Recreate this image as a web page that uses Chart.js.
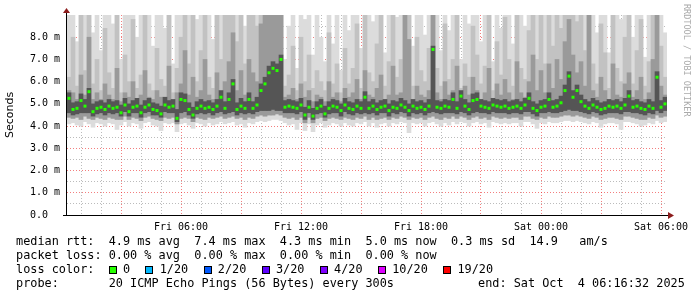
<!DOCTYPE html>
<html>
<head>
<meta charset="utf-8">
<script src="https://cdn.jsdelivr.net/npm/chart.js@4.4.0/dist/chart.umd.min.js"></script>
<style>
  body { margin: 0; background: #fff; }
  #wrap { position: relative; width: 697px; height: 297px; overflow: hidden; font-family: "DejaVu Sans Mono", monospace; }
  #wrap canvas { position: absolute; left: 0; top: 0; }
  .lg { position: absolute; left: 16px; font-size: 11.85px; line-height: 14px; white-space: pre; color: #000; }
  #lossRow { position: absolute; left: 108.7px; top: 262px; font-size: 11.85px; line-height: 14px; white-space: pre; }
  #lossRow .box { display: inline-block; width: 6px; height: 6px; border: 1px solid #000; margin-right: 6.3px; vertical-align: -1px; }
  #lossRow .txt { display: inline-block; margin-right: 15.3px; }
  #mark { position: absolute; left: 682px; top: 4px; writing-mode: vertical-rl; font-size: 8.5px; color: #aaa; white-space: pre; }
</style>
</head>
<body>
<div id="wrap">
  <canvas id="smoke" width="697" height="297"></canvas>
  <div id="mark">RRDTOOL / TOBI OETIKER</div>
  <div class="lg" style="top:234px">median rtt:  4.9 ms avg  7.4 ms max  4.3 ms min  5.0 ms now  0.3 ms sd  14.9   am/s</div>
  <div class="lg" style="top:248px">packet loss: 0.00 % avg  0.00 % max  0.00 % min  0.00 % now</div>
  <div class="lg" style="top:262px">loss color:</div>
  <div id="lossRow"></div>
  <div class="lg" style="top:276px">probe:       20 ICMP Echo Pings (56 Bytes) every 300s</div>
  <div class="lg" style="top:276px;left:478px">end: Sat Oct  4 06:16:32 2025</div>
</div>
<script>
// --- Data (ms), one column per 12 minutes from Fri 00:18 to Sat 06:18 ---

const startMin = 18;   // minutes after Fri 00:00
const stepMin = 12;
const endMin = 1818;

const median = [
  5.25, 4.75, 4.8, 5.15, 4.9, 5.55, 4.65, 4.8, 4.85, 4.75,
  4.9, 4.8, 4.85, 4.6, 4.95, 4.65, 4.85, 4.9, 4.6, 4.85,
  4.95, 4.75, 4.7, 4.55, 4.95, 4.85, 4.9, 4.35, 5.2, 5.15,
  4.75, 4.5, 4.8, 4.9, 4.8, 4.85, 4.75, 4.9, 5.3, 4.8,
  5.2, 5.9, 4.75, 4.9, 4.8, 5.2, 4.8, 4.95, 5.6, 5.9,
  6.4, 6.6, 6.5, 7.0, 4.85, 4.9, 4.85, 4.8, 4.95, 4.5,
  4.85, 4.45, 4.8, 4.9, 4.55, 4.8, 4.9, 4.85, 4.7, 4.95,
  4.8, 4.75, 4.9, 4.8, 5.3, 4.8, 4.9, 4.75, 4.85, 4.9,
  4.7, 4.85, 4.8, 4.95, 4.85, 4.7, 4.9, 4.8, 4.85, 4.75,
  4.9, 7.45, 4.85, 4.8, 4.9, 4.85, 5.2, 4.8, 5.35, 4.9,
  4.75, 5.15, 5.2, 4.9, 4.85, 4.8, 4.95, 4.9, 4.85, 4.9,
  4.8, 4.85, 4.9, 4.8, 4.95, 5.25, 4.8, 4.7, 4.85, 4.9,
  5.2, 4.85, 4.9, 5.05, 5.6, 6.25, 5.3, 5.6, 5.1, 4.9,
  4.8, 4.95, 4.85, 4.75, 4.8, 4.9, 4.85, 4.9, 4.8, 4.95,
  5.35, 4.85, 4.9, 4.8, 4.75, 4.9, 4.8, 6.2, 4.85, 5.0
];

// lowest ping
const smokeMin = [
  4.1, 4.15, 4.05, 4.0, 4.2, 4.1, 3.95, 4.15, 4.1, 4.0,
  4.15, 4.1, 3.85, 4.05, 4.2, 4.0, 4.15, 4.1, 3.9, 4.15,
  4.2, 4.05, 4.0, 3.8, 4.15, 4.1, 4.15, 3.75, 4.1, 4.15,
  4.05, 3.9, 4.15, 4.1, 4.0, 4.15, 4.05, 4.1, 4.2, 4.1,
  4.15, 4.2, 4.05, 4.1, 3.95, 4.15, 4.1, 4.2, 4.25, 4.2,
  4.25, 4.3, 4.3, 4.25, 4.15, 4.05, 4.1, 3.85, 4.15, 3.8,
  4.1, 3.75, 4.05, 4.15, 3.95, 4.05, 4.15, 4.1, 4.0, 4.15,
  4.05, 4.0, 4.15, 4.1, 4.2, 4.0, 4.15, 3.95, 4.1, 4.15,
  4.0, 4.15, 4.1, 4.2, 4.15, 3.7, 4.15, 4.1, 4.15, 4.0,
  4.15, 4.2, 4.1, 4.0, 4.15, 4.05, 4.2, 4.1, 4.2, 4.15,
  4.0, 4.15, 4.2, 4.1, 4.15, 3.95, 4.2, 4.15, 4.1, 4.15,
  4.1, 4.15, 4.15, 4.0, 4.2, 4.2, 4.1, 3.9, 4.15, 4.1,
  4.2, 4.15, 4.15, 4.2, 4.25, 4.25, 4.2, 4.25, 4.2, 4.15,
  4.1, 4.2, 4.15, 3.95, 4.1, 4.15, 4.15, 4.1, 3.85, 4.2,
  4.2, 4.15, 4.1, 4.0, 4.05, 4.15, 4.1, 4.25, 4.15, 4.2
];

// lower edge of the middle smoke bands
const smokeLow = [
  4.4, 4.35, 4.4, 4.3, 4.45, 4.35, 4.3, 4.4, 4.35, 4.3,
  4.4, 4.35, 4.3, 4.3, 4.45, 4.3, 4.4, 4.35, 4.25, 4.4,
  4.45, 4.35, 4.3, 4.25, 4.4, 4.35, 4.4, 4.1, 4.35, 4.4,
  4.35, 4.2, 4.4, 4.35, 4.3, 4.4, 4.35, 4.4, 4.45, 4.35,
  4.4, 4.45, 4.35, 4.4, 4.3, 4.4, 4.35, 4.45, 4.5, 4.45,
  4.5, 4.5, 4.55, 4.5, 4.4, 4.35, 4.4, 4.3, 4.4, 4.15,
  4.4, 4.15, 4.35, 4.4, 4.25, 4.35, 4.4, 4.35, 4.3, 4.4,
  4.35, 4.3, 4.4, 4.35, 4.45, 4.3, 4.4, 4.3, 4.35, 4.4,
  4.3, 4.4, 4.35, 4.45, 4.4, 4.3, 4.4, 4.35, 4.4, 4.3,
  4.4, 4.45, 4.35, 4.3, 4.4, 4.35, 4.45, 4.35, 4.45, 4.4,
  4.3, 4.4, 4.45, 4.35, 4.4, 4.3, 4.45, 4.4, 4.35, 4.4,
  4.35, 4.4, 4.4, 4.3, 4.45, 4.45, 4.35, 4.3, 4.4, 4.35,
  4.45, 4.4, 4.4, 4.45, 4.5, 4.5, 4.45, 4.5, 4.45, 4.4,
  4.35, 4.45, 4.4, 4.3, 4.35, 4.4, 4.4, 4.35, 4.3, 4.45,
  4.45, 4.4, 4.35, 4.3, 4.3, 4.4, 4.35, 4.5, 4.4, 4.45
];

// dark core around the median
const coreLow = [
  4.6, 4.5, 4.55, 4.6, 4.6, 4.6, 4.45, 4.55, 4.6, 4.5,
  4.6, 4.55, 4.6, 4.45, 4.65, 4.45, 4.6, 4.6, 4.4, 4.6,
  4.65, 4.5, 4.5, 4.4, 4.65, 4.6, 4.6, 4.2, 4.6, 4.65,
  4.5, 4.35, 4.55, 4.6, 4.55, 4.6, 4.5, 4.6, 4.65, 4.55,
  4.6, 4.65, 4.5, 4.6, 4.55, 4.6, 4.55, 4.65, 4.7, 4.7,
  4.7, 4.75, 4.7, 4.7, 4.6, 4.6, 4.6, 4.55, 4.65, 4.3,
  4.6, 4.3, 4.55, 4.6, 4.4, 4.55, 4.6, 4.6, 4.45, 4.65,
  4.55, 4.5, 4.6, 4.55, 4.6, 4.55, 4.6, 4.5, 4.6, 4.6,
  4.45, 4.6, 4.55, 4.65, 4.6, 4.45, 4.6, 4.55, 4.6, 4.5,
  4.6, 4.65, 4.6, 4.55, 4.6, 4.6, 4.6, 4.55, 4.65, 4.6,
  4.5, 4.6, 4.65, 4.6, 4.6, 4.55, 4.65, 4.6, 4.6, 4.6,
  4.55, 4.6, 4.6, 4.55, 4.65, 4.65, 4.55, 4.45, 4.6, 4.6,
  4.65, 4.6, 4.6, 4.65, 4.7, 4.75, 4.7, 4.7, 4.65, 4.6,
  4.55, 4.65, 4.6, 4.5, 4.55, 4.6, 4.6, 4.6, 4.55, 4.65,
  4.65, 4.6, 4.6, 4.55, 4.5, 4.6, 4.55, 4.7, 4.6, 4.7
];

const coreHigh = [
  5.5, 5.05, 5.1, 5.45, 5.2, 5.7, 5.0, 5.1, 5.15, 5.05,
  5.2, 5.1, 5.15, 4.95, 5.25, 5.0, 5.15, 5.25, 4.95, 5.15,
  5.25, 5.05, 5.0, 4.9, 5.3, 5.15, 5.2, 4.75, 5.5, 5.45,
  5.05, 4.85, 5.1, 5.2, 5.1, 5.15, 5.05, 5.2, 5.6, 5.1,
  5.5, 6.1, 5.05, 5.25, 5.1, 5.5, 5.1, 5.3, 5.9, 6.2,
  6.7, 6.9, 6.8, 7.2, 5.15, 5.2, 5.15, 5.1, 5.25, 4.85,
  5.15, 4.8, 5.1, 5.2, 4.9, 5.1, 5.2, 5.15, 5.0, 5.25,
  5.1, 5.05, 5.2, 5.1, 5.55, 5.1, 5.2, 5.05, 5.15, 5.2,
  5.0, 5.15, 5.1, 5.25, 5.15, 5.0, 5.2, 5.1, 5.15, 5.05,
  5.2, 7.6, 5.15, 5.1, 5.2, 5.15, 5.5, 5.1, 5.6, 5.2,
  5.05, 5.45, 5.5, 5.2, 5.15, 5.1, 5.25, 5.2, 5.15, 5.2,
  5.1, 5.15, 5.2, 5.1, 5.25, 5.5, 5.1, 5.0, 5.15, 5.2,
  5.5, 5.15, 5.2, 5.35, 5.85, 6.45, 5.6, 5.85, 5.4, 5.2,
  5.1, 5.25, 5.15, 5.05, 5.1, 5.2, 5.15, 5.2, 5.1, 5.25,
  5.6, 5.15, 5.2, 5.1, 5.05, 5.2, 5.1, 6.45, 5.15, 5.3
];

// upper edge of the medium grey band
const midHigh = [
  5.6, 5.5, 5.2, 6.3, 5.4, 8.0, 5.2, 5.5, 5.2, 5.9,
  5.4, 5.2, 6.6, 5.1, 5.5, 5.3, 6.0, 5.2, 5.4, 6.5,
  5.3, 5.2, 5.6, 5.3, 5.2, 6.7, 5.1, 5.5, 5.9, 7.4,
  5.4, 6.2, 5.3, 5.6, 7.0, 5.4, 5.2, 6.4, 5.5, 6.0,
  6.9, 8.2, 5.6, 6.5, 5.4, 7.0, 6.4, 6.0, 8.6, 9.5,
  9.5, 9.5, 9.5, 9.5, 5.3, 5.4, 5.7, 5.2, 5.9, 5.3,
  5.6, 5.1, 5.4, 5.3, 5.1, 6.0, 5.3, 5.5, 5.1, 5.7,
  5.3, 5.5, 6.1, 5.2, 6.5, 5.4, 5.3, 5.7, 6.3, 5.2,
  5.4, 6.7, 5.4, 5.5, 9.5, 7.9, 5.2, 5.8, 5.4, 5.3,
  5.6, 9.5, 5.5, 5.2, 6.0, 5.4, 5.6, 6.7, 5.2, 5.8,
  5.4, 6.2, 5.6, 5.2, 5.5, 6.6, 5.2, 5.9, 5.4, 6.1,
  5.5, 5.2, 6.9, 5.5, 5.3, 6.0, 7.2, 5.6, 6.5, 5.5,
  6.8, 5.7, 7.0, 6.1, 7.8, 8.8, 7.2, 6.4, 6.9, 5.8,
  9.5, 5.6, 5.3, 6.2, 5.6, 5.2, 6.8, 5.4, 5.3, 5.9,
  6.4, 5.3, 5.6, 6.2, 5.2, 5.5, 7.0, 9.5, 5.8, 5.4
];

// upper edge of the light grey band
const upperHigh = [
  6.2, 8.0, 5.8, 9.5, 6.5, 9.5, 5.9, 7.0, 5.6, 8.4,
  6.4, 5.7, 9.5, 5.5, 7.2, 6.0, 8.8, 5.7, 6.3, 9.5,
  5.9, 5.6, 7.5, 6.1, 5.8, 9.5, 5.5, 6.6, 8.0, 9.5,
  6.8, 9.5, 6.0, 7.4, 9.5, 6.2, 5.7, 9.5, 7.0, 9.5,
  9.5, 9.5, 7.8, 9.5, 6.8, 9.5, 9.5, 8.5, 9.5, 9.5,
  9.5, 9.5, 9.5, 9.5, 5.8, 6.3, 7.6, 5.6, 8.0, 6.0,
  7.2, 5.7, 6.5, 6.0, 5.6, 8.2, 5.9, 6.8, 5.5, 7.5,
  5.9, 6.6, 8.6, 5.7, 9.5, 6.4, 6.0, 7.7, 9.5, 5.8,
  6.9, 9.5, 6.2, 7.0, 9.5, 9.5, 5.8, 8.0, 6.5, 6.0,
  7.5, 9.5, 6.6, 5.8, 8.6, 6.1, 7.0, 9.5, 5.7, 6.8,
  6.2, 8.5, 7.2, 5.9, 6.7, 9.5, 5.6, 7.8, 6.3, 8.9,
  7.0, 5.8, 9.5, 6.6, 6.1, 8.3, 9.5, 7.0, 9.5, 6.8,
  9.5, 7.6, 9.5, 8.4, 9.5, 9.5, 9.5, 8.7, 9.5, 7.4,
  9.5, 6.8, 5.9, 8.6, 7.3, 5.7, 9.5, 6.6, 6.0, 8.0,
  9.5, 5.9, 7.4, 8.8, 5.8, 6.9, 9.5, 9.5, 7.6, 6.2
];

// highest ping (above 9.0 is cut by the graph top)
const smokeMax = [
  9.5, 9.5, 7.8, 9.5, 9.5, 9.5, 8.2, 9.5, 7.4, 9.5,
  9.5, 8.6, 9.5, 7.0, 9.5, 9.5, 9.5, 8.0, 9.5, 9.5,
  9.5, 7.6, 9.5, 9.5, 8.4, 9.5, 6.8, 9.5, 9.5, 9.5,
  9.5, 9.5, 8.8, 9.5, 9.5, 9.5, 7.9, 9.5, 9.5, 9.5,
  9.5, 9.5, 9.5, 9.5, 8.5, 9.5, 9.5, 9.5, 9.5, 9.5,
  9.5, 9.5, 9.5, 9.5, 7.0, 8.5, 9.5, 6.6, 9.5, 8.8,
  9.5, 7.2, 9.5, 8.0, 6.9, 9.5, 7.7, 9.5, 6.5, 9.5,
  8.3, 9.5, 9.5, 7.5, 9.5, 9.5, 8.7, 9.5, 9.5, 7.3,
  9.5, 9.5, 8.9, 9.5, 9.5, 9.5, 7.6, 9.5, 9.5, 8.1,
  9.5, 9.5, 9.5, 7.4, 9.5, 8.3, 9.5, 9.5, 7.0, 9.5,
  8.6, 9.5, 9.5, 7.8, 9.5, 9.5, 6.9, 9.5, 8.4, 9.5,
  9.5, 7.7, 9.5, 9.5, 8.5, 9.5, 9.5, 9.5, 9.5, 9.5,
  9.5, 9.5, 9.5, 9.5, 9.5, 9.5, 9.5, 9.5, 9.5, 9.5,
  9.5, 9.5, 8.2, 9.5, 9.5, 7.3, 9.5, 9.5, 8.8, 9.5,
  9.5, 8.0, 9.5, 9.5, 7.1, 9.5, 9.5, 9.5, 9.5, 8.2
];

const lossLabels = ["0", "1/20", "2/20", "3/20", "4/20", "10/20", "19/20"];
const lossColors = ["#26ff00", "#00b8ff", "#0059ff", "#5e00ff", "#7e00ff", "#dd00ff", "#ff0000"];

const dayNames = ["Fri", "Sat"];

// --- Helpers ---

const sampleTimes = median.map((_, i) => startMin + stepMin / 2 + stepMin * i);

function rangeData(lo, hi) {
  return sampleTimes.map((t, i) => ({ x: t, y: [lo[i], hi[i]] }));
}

function timeLabel(min) {
  const day = dayNames[Math.floor(min / 1440)];
  const h = Math.floor((min % 1440) / 60);
  return day + " " + String(h).padStart(2, "0") + ":00";
}

const majorGrid = "rgba(235, 40, 40, 0.6)";
const minorGrid = "rgba(120, 120, 120, 0.5)";

// hourly grid, red every 3 hours
const hourTicks = [];
for (let m = 60; m <= 1800; m += 60) hourTicks.push(m);

// smoke bands, outer (lightest) first
const bands = [
  { lo: smokeMin, hi: smokeMax, color: "#dcdcdc" },
  { lo: smokeLow, hi: upperHigh, color: "#c2c2c2" },
  { lo: smokeLow, hi: midHigh, color: "#9a9a9a" },
  { lo: coreLow, hi: coreHigh, color: "#555555" },
];

const datasets = bands.map((b, i) => ({
  type: "bar",
  data: rangeData(b.lo, b.hi),
  backgroundColor: b.color,
  borderWidth: 0,
  grouped: false,
  barPercentage: 1,
  categoryPercentage: 1,
  order: 10 - i,
}));

datasets.push({
  type: "line",
  data: sampleTimes.map((t, i) => ({ x: t, y: median[i] })),
  showLine: false,
  pointStyle: "line",
  pointRadius: 1.5,
  pointBorderWidth: 3,
  pointBorderColor: lossColors[0],
  pointBackgroundColor: lossColors[0],
  order: 0,
});

// axis lines with the little dark red arrows
const axisArrows = {
  id: "axisArrows",
  afterDraw(chart) {
    const { ctx, chartArea: a } = chart;
    ctx.save();
    ctx.strokeStyle = "#000";
    ctx.lineWidth = 1;
    ctx.beginPath();
    ctx.moveTo(a.left - 4, a.bottom + 0.5);
    ctx.lineTo(a.right + 2, a.bottom + 0.5);
    ctx.moveTo(a.left - 0.5, a.bottom);
    ctx.lineTo(a.left - 0.5, a.top - 3);
    ctx.stroke();
    ctx.fillStyle = "#8c1c1c";
    ctx.beginPath();
    ctx.moveTo(a.left - 0.5, a.top - 7);
    ctx.lineTo(a.left - 4, a.top - 2);
    ctx.lineTo(a.left + 3, a.top - 2);
    ctx.closePath();
    ctx.fill();
    ctx.beginPath();
    ctx.moveTo(a.right + 7, a.bottom + 0.5);
    ctx.lineTo(a.right + 1, a.bottom - 3);
    ctx.lineTo(a.right + 1, a.bottom + 4);
    ctx.closePath();
    ctx.fill();
    ctx.restore();
  },
};

// --- Chart ---

document.addEventListener("DOMContentLoaded", () => {
  const row = document.getElementById("lossRow");
  lossLabels.forEach((lab, i) => {
    const box = document.createElement("span");
    box.className = "box";
    box.style.background = lossColors[i];
    const txt = document.createElement("span");
    txt.className = "txt";
    txt.textContent = lab;
    row.appendChild(box);
    row.appendChild(txt);
  });

  const tickFont = { family: "DejaVu Sans Mono", size: 10 };

  new Chart(document.getElementById("smoke"), {
    type: "bar",
    data: { datasets },
    options: {
      responsive: false,
      animation: false,
      layout: { padding: { top: 15, right: 30, left: 0, bottom: 0 } },
      plugins: { legend: { display: false }, tooltip: { enabled: false } },
      scales: {
        x: {
          type: "linear",
          min: startMin,
          max: endMin,
          offset: false,
          z: 1,
          afterBuildTicks: (axis) => { axis.ticks = hourTicks.map((v) => ({ value: v })); },
          afterFit: (axis) => { axis.height = 82; },
          grid: {
            offset: false,
            drawTicks: false,
            color: (c) => (c.tick.value % 180 === 0 ? majorGrid : minorGrid),
          },
          border: { display: false, dash: [1, 2] },
          ticks: {
            autoSkip: false,
            maxRotation: 0,
            padding: 6,
            color: "#000",
            font: tickFont,
            callback: (v) => (v % 360 === 0 ? timeLabel(v) : ""),
          },
        },
        y: {
          min: 0,
          max: 9,
          z: 1,
          afterFit: (axis) => { axis.width = 67; },
          grid: {
            drawTicks: false,
            color: (c) => (c.tick.value >= 9 ? "rgba(0,0,0,0)" : c.tick.value % 1 === 0 ? majorGrid : minorGrid),
          },
          border: { display: false, dash: [1, 2] },
          ticks: {
            stepSize: 0.5,
            autoSkip: false,
            padding: 7,
            color: "#000",
            font: tickFont,
            callback: (v) => (v % 1 !== 0 || v >= 9 ? "" : v === 0 ? "0.0  " : v.toFixed(1) + " m"),
          },
          title: {
            display: true,
            text: "Seconds",
            color: "#000",
            font: { family: "DejaVu Sans", size: 11 },
            padding: { top: 4, bottom: 0 },
          },
        },
      },
    },
    plugins: [axisArrows],
  });
});
</script>
</body>
</html>
